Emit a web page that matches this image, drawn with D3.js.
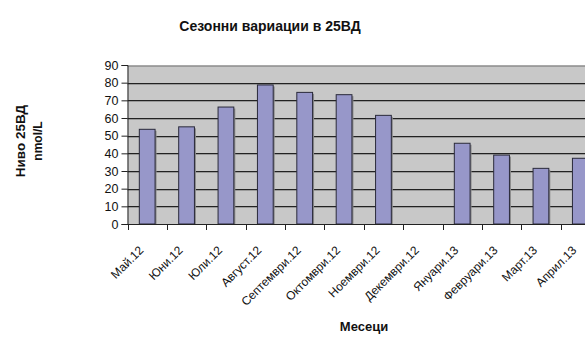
<!DOCTYPE html>
<html>
<head>
<meta charset="utf-8">
<script src="https://cdn.jsdelivr.net/npm/d3@7"></script>
<style>
  body { margin: 0; background: #fff; }
  text { font-family: "Liberation Sans", Arial, sans-serif; }
</style>
</head>
<body>
<div id="chart"></div>
<script>
// ---------- data ----------
const months = ['Май.12', 'Юни.12', 'Юли.12', 'Август.12', 'Септември.12', 'Октомври.12',
  'Ноември.12', 'Декември.12', 'Януари.13', 'Февруари.13', 'Март.13', 'Април.13'];
const levels = [53.6, 55, 66.2, 78.7, 74.5, 73.2, 61.5, null, 45.7, 39, 31.5, 37.2];
const yTicks = [0, 10, 20, 30, 40, 50, 60, 70, 80, 90];

const W = 585, H = 338;
const m = { left: 127.5, top: 65, bottom: 224, right: 600 };

const svg = d3.select('#chart').append('svg')
  .attr('width', W).attr('height', H);

const x = d3.scaleBand().domain(months).range([m.left, m.right]).paddingInner(0.6).paddingOuter(0.3);
const xc = d3.scaleBand().domain(months).range([m.left, m.right]);
const y = d3.scaleLinear().domain([0, 90]).range([m.bottom, m.top]);

// plot area
svg.append('rect')
  .attr('x', m.left).attr('y', m.top)
  .attr('width', m.right - m.left).attr('height', m.bottom - m.top)
  .attr('fill', '#c8c8c8');

// gridlines (with faint shadow)
const grid = svg.append('g');
yTicks.filter(t => t > 0).forEach(t => {
  const yy = Math.round(y(t)) + 0.5;
  grid.append('line')
    .attr('x1', m.left).attr('x2', m.right)
    .attr('y1', yy + 1).attr('y2', yy + 1)
    .attr('stroke', '#9a9a9a');
  grid.append('line')
    .attr('x1', m.left).attr('x2', m.right)
    .attr('y1', yy).attr('y2', yy)
    .attr('stroke', t === 90 ? '#a8a8a8' : '#222');
});

// bars
const bars = months.map((d, i) => ({ month: d, v: levels[i] })).filter(d => d.v != null);
svg.append('g').selectAll('rect.shadow')
  .data(bars)
  .join('rect')
  .attr('x', d => x(d.month) + 1.5)
  .attr('y', d => y(d.v) + 1.5)
  .attr('width', x.bandwidth())
  .attr('height', d => y(0) - y(d.v) - 1.5)
  .attr('fill', '#8a8a8a');
svg.append('g').selectAll('rect.bar')
  .data(bars)
  .join('rect')
  .attr('x', d => x(d.month))
  .attr('y', d => y(d.v))
  .attr('width', x.bandwidth())
  .attr('height', d => y(0) - y(d.v))
  .attr('fill', '#9797c9')
  .attr('stroke', '#2a2a3a')
  .attr('stroke-width', 1);

// y axis
const yAxis = svg.append('g')
  .attr('transform', `translate(${m.left},0)`)
  .call(d3.axisLeft(y).tickValues(yTicks).tickSize(6).tickPadding(3));
yAxis.select('.domain').attr('stroke', '#222');
yAxis.selectAll('.tick line').attr('stroke', '#222');
yAxis.selectAll('text').attr('font-size', 12.5).attr('fill', '#111')
  .style('font-family', '"Liberation Sans", Arial, sans-serif');

// x axis
const bounds = months.map(d => xc(d)).concat([m.right]);
const xAxis = svg.append('g');
xAxis.append('line')
  .attr('x1', m.left).attr('x2', m.right)
  .attr('y1', m.bottom + 0.5).attr('y2', m.bottom + 0.5)
  .attr('stroke', '#222');
xAxis.selectAll('line.tk')
  .data(bounds)
  .join('line')
  .attr('x1', d => Math.round(d) + 0.5).attr('x2', d => Math.round(d) + 0.5)
  .attr('y1', m.bottom).attr('y2', m.bottom + 6)
  .attr('stroke', '#222');
xAxis.selectAll('text')
  .data(months)
  .join('text')
  .attr('transform', d => `translate(${xc(d) + xc.bandwidth() / 2 - 3},${m.bottom + 27}) rotate(-45)`)
  .attr('text-anchor', 'end')
  .attr('font-size', 12)
  .attr('fill', '#111')
  .text(d => d);

// titles
svg.append('text')
  .attr('x', 270).attr('y', 31)
  .attr('text-anchor', 'middle')
  .attr('font-size', 14).attr('font-weight', 'bold').attr('fill', '#111')
  .text('Сезонни вариации в 25ВД');

svg.append('text')
  .attr('x', 364).attr('y', 331)
  .attr('text-anchor', 'middle')
  .attr('font-size', 13).attr('font-weight', 'bold').attr('fill', '#111')
  .text('Месеци');

const yt = svg.append('text')
  .attr('transform', 'translate(25,141) rotate(-90)')
  .attr('text-anchor', 'middle')
  .attr('font-weight', 'bold').attr('fill', '#111');
yt.append('tspan').attr('x', 0).attr('dy', 0).attr('font-size', 13.5).text('Ниво 25ВД');
yt.append('tspan').attr('x', 0).attr('dy', 17).attr('font-size', 12).text('nmol/L');
</script>
</body>
</html>
